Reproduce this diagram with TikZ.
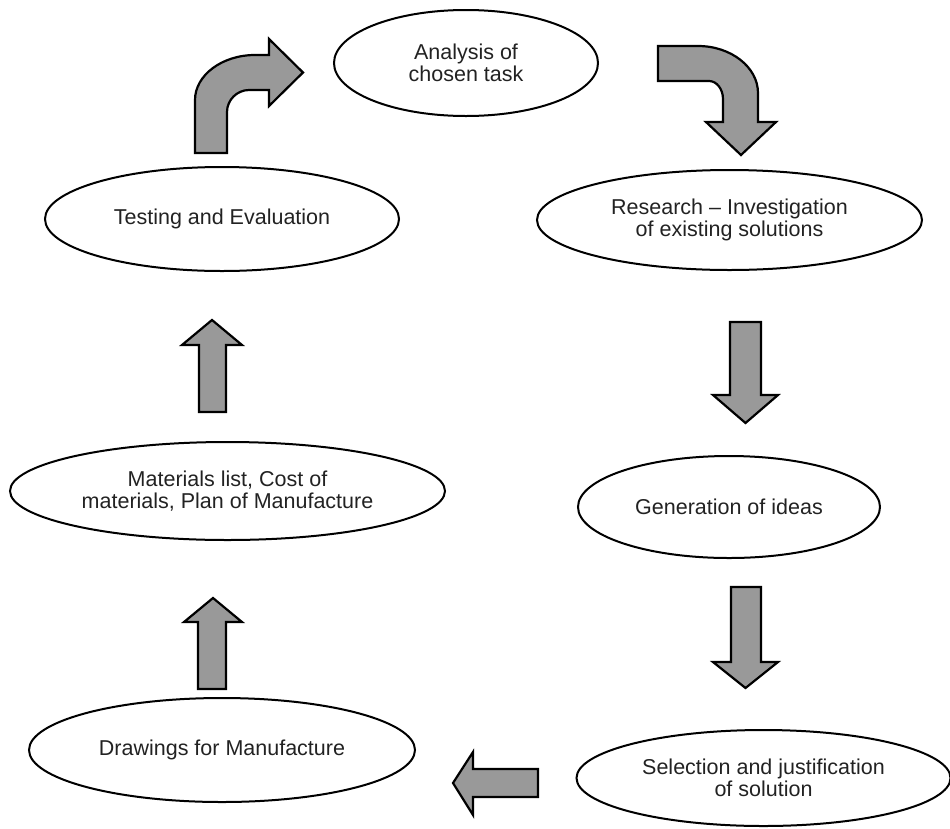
\documentclass[tikz,border=0pt]{standalone}
\usepackage{fontspec}
\setmainfont{Liberation Sans}
\usetikzlibrary{shapes.geometric}
\definecolor{arrgray}{RGB}{153,153,153}
\definecolor{txt}{RGB}{34,34,34}
\tikzset{
  stage/.style={ellipse, draw=black, line width=2pt, inner sep=0pt, align=center,
    text=txt, font=\fontsize{21.5}{22.5}\selectfont},
  blockarrow/.style={fill=arrgray, draw=black, line width=2.2pt, line join=miter}
}
\begin{document}
\begin{tikzpicture}[x=1pt,y=-1pt]
\useasboundingbox (0,0) rectangle (950,828);
% stages
\node[stage, minimum width=264pt, minimum height=106pt] (analysis) at (466,63) {Analysis of\\chosen task};
\node[stage, minimum width=385pt, minimum height=100pt] (research) at (729.5,220) {Research -- Investigation\\of existing solutions};
\node[stage, minimum width=354pt, minimum height=104pt] (testing) at (222,219) {Testing and Evaluation};
\node[stage, minimum width=435pt, minimum height=98pt] (materials) at (227.5,491) {Materials list, Cost of\\materials, Plan of Manufacture};
\node[stage, minimum width=302pt, minimum height=102pt] (generation) at (729,507) {Generation of ideas};
\node[stage, minimum width=386pt, minimum height=104pt] (drawings) at (222,750) {Drawings for Manufacture};
\node[stage, minimum width=374pt, minimum height=96pt] (selection) at (763.5,778) {Selection and justification\\of solution};
% bent arrow: testing -> analysis
\draw[blockarrow] (195,153) -- (195,100) .. controls (195,75.25) and (222,55) .. (255,55)
  -- (269,55) -- (269,39) -- (303,72.5) -- (269,106) -- (269,90) -- (249,90)
  .. controls (237,90) and (227,100) .. (227,112) -- (227,153) -- cycle;
% bent arrow: analysis -> research
\draw[blockarrow] (658,46) -- (698,46) .. controls (731,46) and (758,67.2) .. (758,93)
  -- (758,122) -- (776,122) -- (741,155) -- (706,122) -- (723,122) -- (723,99)
  .. controls (723,89.1) and (716.7,81) .. (709,81) -- (658,81) -- cycle;
% research -> generation
\draw[blockarrow] (730,322) -- (761,322) -- (761,395) -- (778,395) -- (745.5,423)
  -- (713,395) -- (730,395) -- cycle;
% generation -> selection
\draw[blockarrow] (731,587) -- (761,587) -- (761,662) -- (778,662) -- (745.5,688)
  -- (713,662) -- (731,662) -- cycle;
% selection -> drawings
\draw[blockarrow] (538,769) -- (538,797) -- (473,797) -- (473,815) -- (453,783)
  -- (473,752) -- (473,769) -- cycle;
% drawings -> materials
\draw[blockarrow] (198,689) -- (198,622) -- (184,622) -- (213,598) -- (242,622)
  -- (226,622) -- (226,689) -- cycle;
% materials -> testing
\draw[blockarrow] (199,412) -- (199,345) -- (182,345) -- (212,320) -- (242,345)
  -- (226,345) -- (226,412) -- cycle;
\end{tikzpicture}
\end{document}
